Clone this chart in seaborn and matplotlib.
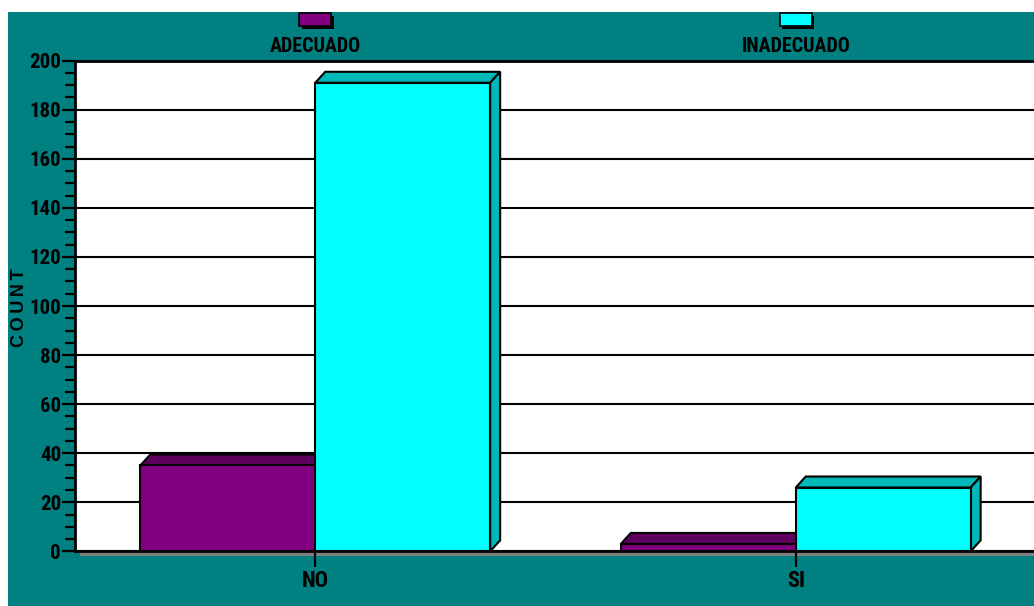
import matplotlib
matplotlib.use("Agg")
import matplotlib.pyplot as plt
from matplotlib.patches import Polygon, Rectangle
from matplotlib.transforms import blended_transform_factory
import numpy as np
import pandas as pd
import seaborn as sns

# Survey counts per answer and classification
categories = ["NO", "SI"]
groups = ["ADECUADO", "INADECUADO"]
adecuado = [35, 3]
inadecuado = [191, 26]
y_ticks = list(range(0, 201, 20))

front_colors = {"ADECUADO": "#800080", "INADECUADO": "#00FFFF"}
shade_colors = {"ADECUADO": "#5E005E", "INADECUADO": "#00B8B8"}
panel_color = "#008080"

df = pd.DataFrame({
    "grupo": np.repeat(groups, len(categories)),
    "respuesta": categories * len(groups),
    "count": adecuado + inadecuado,
})

sns.set_theme(style="white")
narrow = ["Roboto Condensed", "Liberation Sans", "DejaVu Sans"]
plt.rcParams["font.family"] = ["Liberation Sans", "DejaVu Sans"]

W, H = 1034, 606
fig = plt.figure(figsize=(W / 100, H / 100), dpi=100, facecolor="white")
fig.patches.append(Rectangle((8 / W, 0), 1, (H - 12) / H, transform=fig.transFigure,
                             facecolor=panel_color, edgecolor="none", zorder=-5))

left_px, right_px, top_px, base_px = 75, 1036, 60.7, 551.3
ax = fig.add_axes([left_px / W, (H - base_px) / H, (right_px - left_px) / W,
                   (base_px - top_px) / H])
ax.set_facecolor("white")

sns.barplot(data=df, x="respuesta", y="count", hue="grupo", order=categories,
            hue_order=groups, palette=front_colors, width=0.728, saturation=1,
            edgecolor="black", linewidth=1.5, legend=False, ax=ax)

ax.set_xlim(-0.5, 1.5)
ax.set_ylim(0, 200)
ax.set_yticks(y_ticks)
ax.set_yticks(np.arange(0, 201, 5), minor=True)

# 3D depth of each bar: fixed offset in pixels converted to data units
fig.canvas.draw()
inv = ax.transData.inverted()
p0 = inv.transform(ax.transData.transform((0, 0)))
p1 = inv.transform(ax.transData.transform((0, 0)) + np.array([10, 11]))
dx, dy = p1 - p0

bars = [p for p in ax.patches if isinstance(p, Rectangle)]
for i, bar in enumerate(bars):
    grp = groups[i // len(categories)]
    z = 3 + i // len(categories)
    bar.set_zorder(z)
    x0, w, h = bar.get_x(), bar.get_width(), bar.get_height()
    top = Polygon([(x0, h), (x0 + dx, h + dy), (x0 + w + dx, h + dy), (x0 + w, h)],
                  closed=True, facecolor=shade_colors[grp], edgecolor="black",
                  linewidth=1.5, zorder=z - 0.1)
    side = Polygon([(x0 + w, 0), (x0 + w + dx, dy), (x0 + w + dx, h + dy), (x0 + w, h)],
                   closed=True, facecolor=shade_colors[grp], edgecolor="black",
                   linewidth=1.5, zorder=z - 0.1)
    ax.add_patch(top)
    ax.add_patch(side)

# Floor strip under the baseline
ax.add_patch(Rectangle((5 / (right_px - left_px), -4.8 / (base_px - top_px)), 1.2,
                       4.8 / (base_px - top_px), transform=ax.transAxes,
                       facecolor="#808080", edgecolor="none", clip_on=False, zorder=0.3))

ax.set_axisbelow(True)
ax.yaxis.grid(True, which="major", color="black", linewidth=1.5)
ax.xaxis.grid(False)
for side_name in ["left", "top", "bottom"]:
    ax.spines[side_name].set_visible(True)
    ax.spines[side_name].set_color("black")
    ax.spines[side_name].set_linewidth(2)
ax.spines["right"].set_visible(False)

ax.tick_params(axis="y", which="major", direction="out", length=9.5, width=1.6,
               color="black", pad=0.5, left=True)
ax.tick_params(axis="y", which="minor", direction="out", length=7.2, width=1.6,
               color="black", left=True)
ax.tick_params(axis="x", which="major", direction="out", length=11.5, width=1.6,
               color="black", pad=2, bottom=True)
for lab in ax.get_yticklabels():
    lab.set_fontfamily(narrow)
    lab.set_fontweight("bold")
    lab.set_fontsize(15)
    lab.set_color("black")
for lab in ax.get_xticklabels():
    lab.set_fontfamily(narrow)
    lab.set_fontweight("bold")
    lab.set_fontsize(16)
    lab.set_color("black")
ax.set_xlabel("")
ax.set_ylabel("")

fig.text(19 / W, 1 - 307.5 / H, "C\u2009O\u2009U\u2009N\u2009T", rotation=90,
         ha="center", va="center", fontsize=13, fontweight="bold", color="black",
         family=["Liberation Sans", "DejaVu Sans"])

# Legend: swatch above each label, aligned with the category columns
trans = blended_transform_factory(ax.transData, fig.transFigure)
sw_w = 32 / (right_px - left_px) * 2.0
for i, grp in enumerate(groups):
    cx = i
    shadow = Rectangle((cx - sw_w / 2 + 0.005, 1 - 28.5 / H), sw_w, 13 / H, transform=trans,
                       facecolor="black", edgecolor="none", clip_on=False, zorder=5)
    sw = Rectangle((cx - sw_w / 2, 1 - 26 / H), sw_w, 13 / H, transform=trans,
                   facecolor=front_colors[grp], edgecolor="black", linewidth=1.2,
                   clip_on=False, zorder=6)
    fig.patches.extend([shadow, sw])
    fig.text(cx, 1 - 46 / H, grp, transform=trans, ha="center", va="center",
             fontsize=14.5, fontweight="bold", fontfamily=narrow, color="black")

fig.savefig("out.png", dpi=100, facecolor=fig.get_facecolor())
